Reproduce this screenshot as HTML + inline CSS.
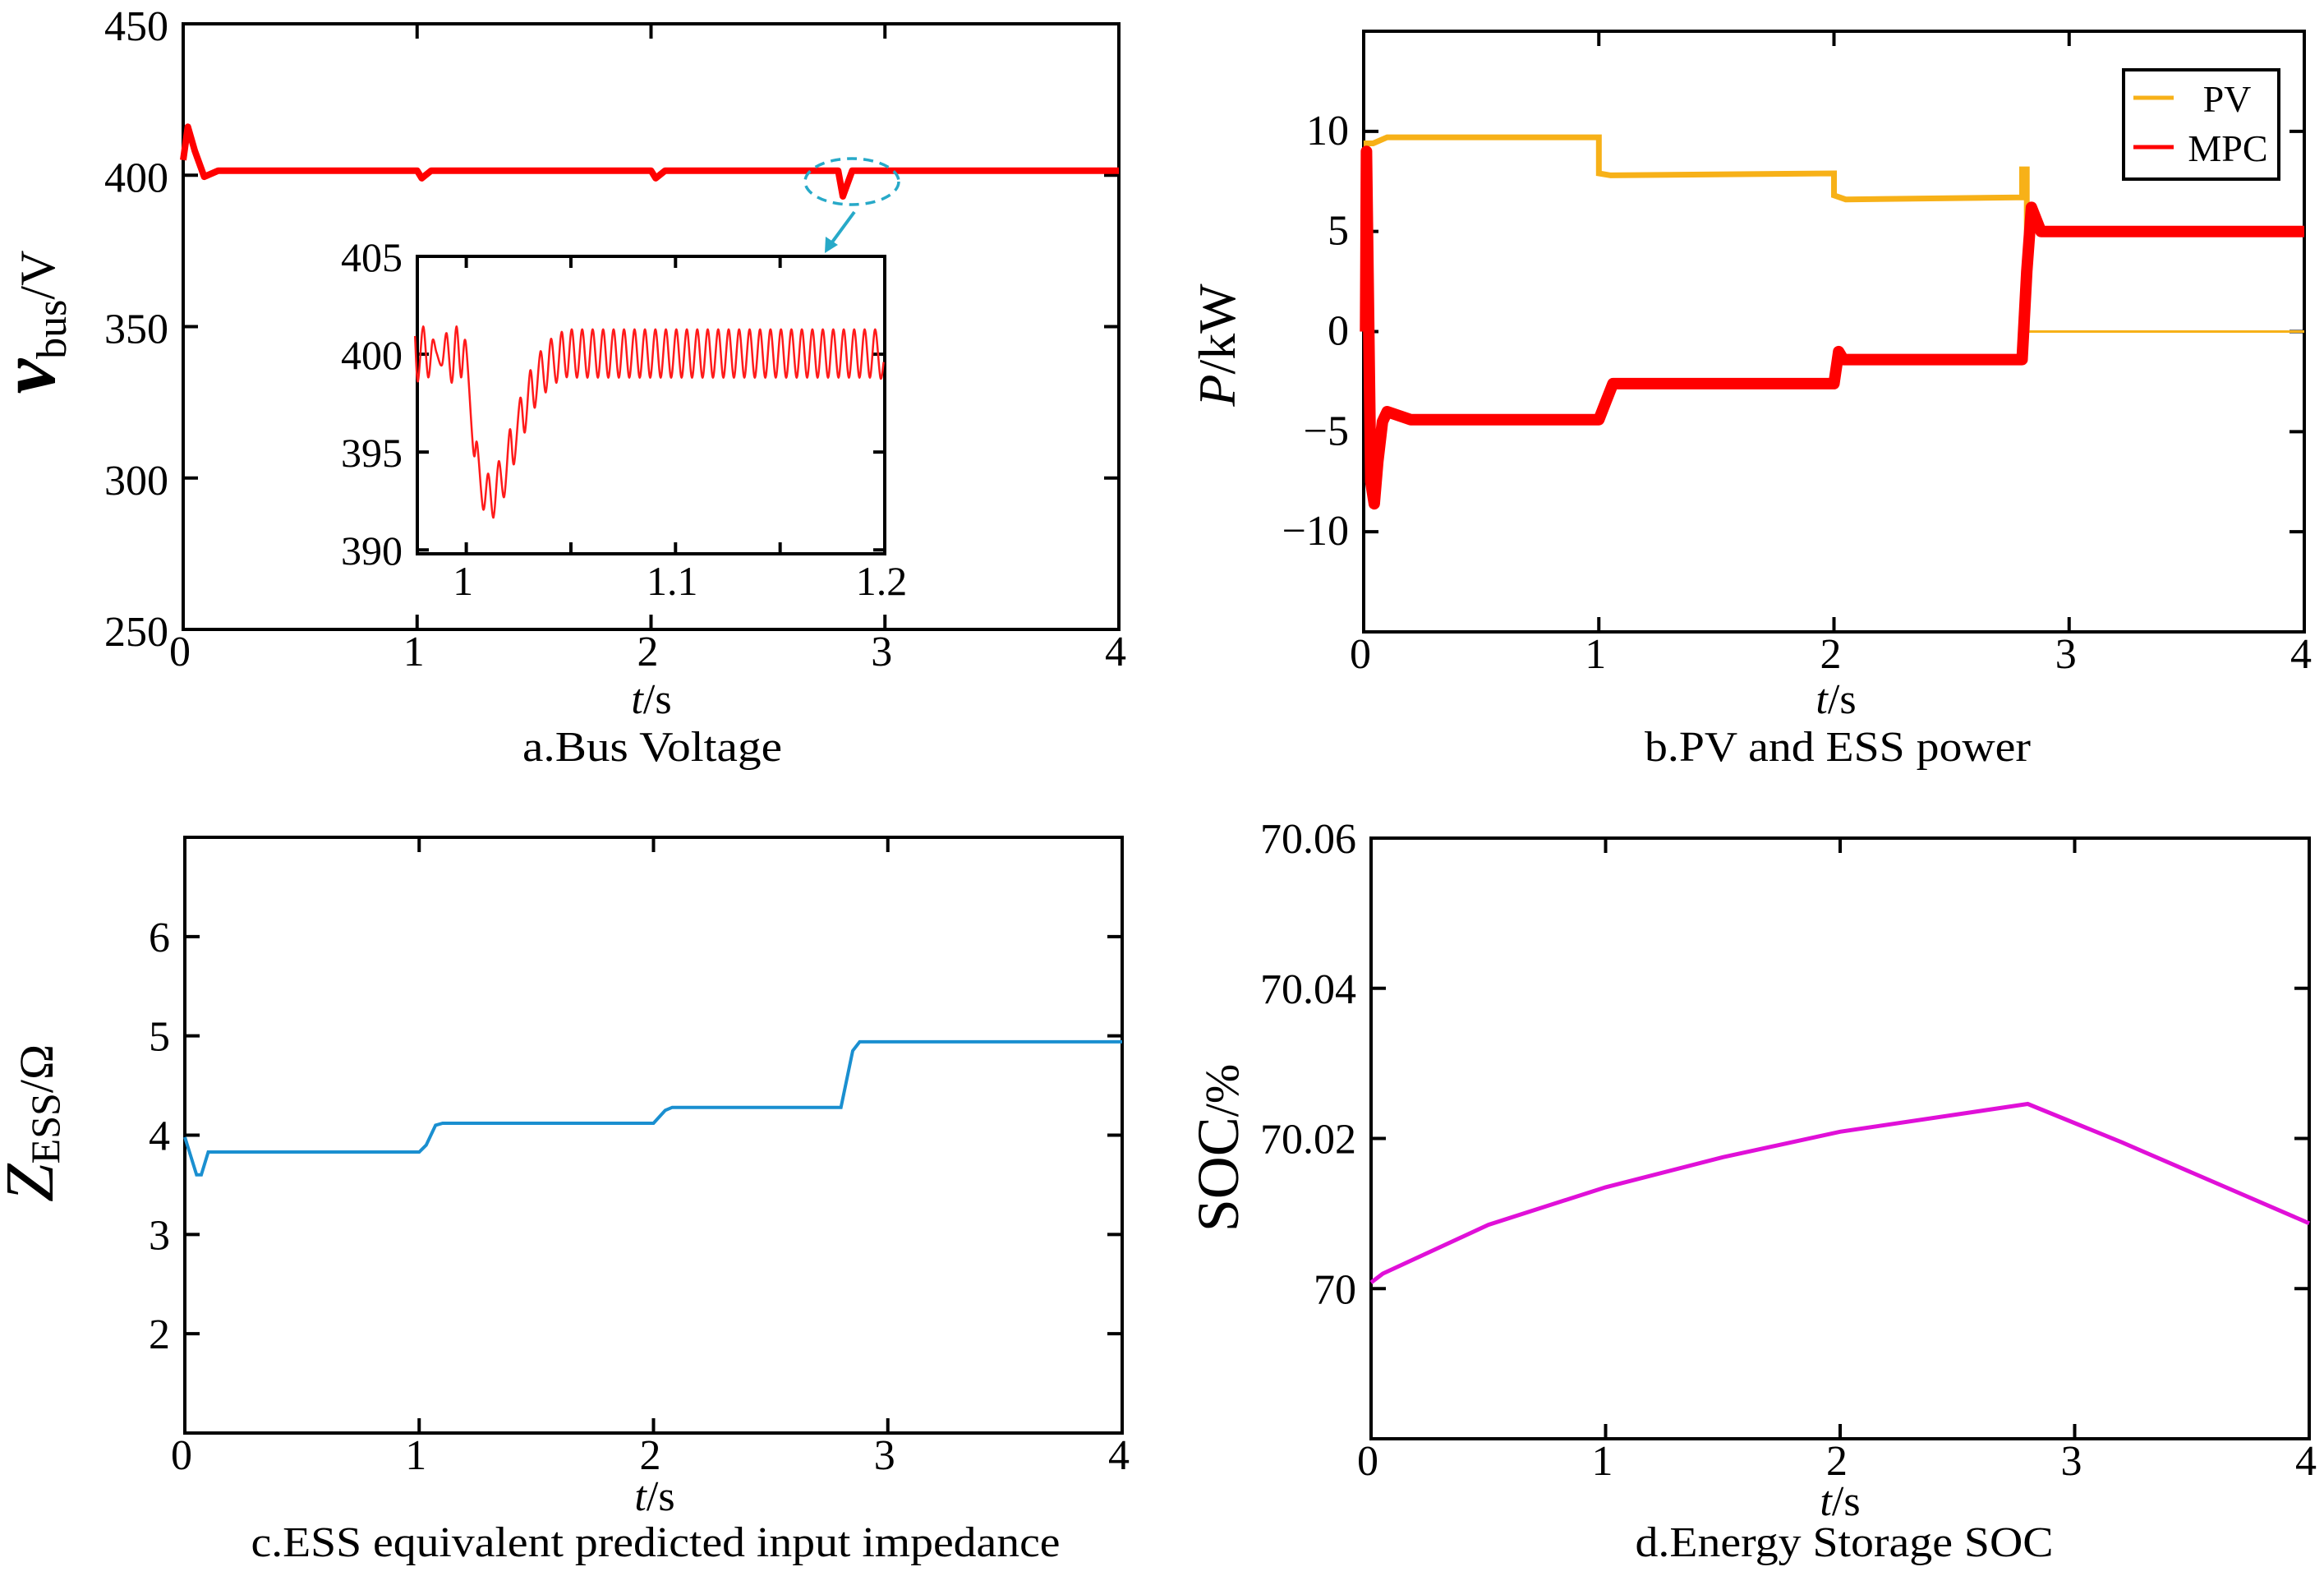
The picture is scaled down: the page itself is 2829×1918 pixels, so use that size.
<!DOCTYPE html>
<html><head><meta charset="utf-8"><style>
html,body{margin:0;padding:0;background:#fff}
svg{display:block;font-family:"Liberation Serif",serif}
</style></head><body>
<svg id="fig" width="2829" height="1918" viewBox="0 0 2829 1918" xmlns="http://www.w3.org/2000/svg">
<rect width="2829" height="1918" fill="#fff"/>
<g font-family="Liberation Serif, serif" fill="#000">
  <text transform="translate(66,392) rotate(-90)" text-anchor="middle" font-size="60"><tspan font-size="96" font-style="italic" font-weight="bold">v</tspan><tspan font-size="52" dy="14">bus</tspan><tspan dy="-14">/V</tspan></text>
  <text x="793" y="868" text-anchor="middle" font-size="52"><tspan font-style="italic">t</tspan>/s</text>
  <text x="794" y="926" text-anchor="middle" font-size="52" textLength="316" lengthAdjust="spacingAndGlyphs">a.Bus Voltage</text>

  <text transform="translate(1503,420) rotate(-90)" text-anchor="middle" font-size="64"><tspan font-style="italic">P</tspan>/kW</text>
  <text x="2235" y="868" text-anchor="middle" font-size="52"><tspan font-style="italic">t</tspan>/s</text>
  <text x="2237" y="926" text-anchor="middle" font-size="52" textLength="470" lengthAdjust="spacingAndGlyphs">b.PV and ESS power</text>

  <text transform="translate(64,1367) rotate(-90)" text-anchor="middle" font-size="58"><tspan font-size="84" font-style="italic">Z</tspan><tspan font-size="50" dy="8">ESS</tspan><tspan dy="-8">/Ω</tspan></text>
  <text x="797" y="1838" text-anchor="middle" font-size="52"><tspan font-style="italic">t</tspan>/s</text>
  <text x="798" y="1894" text-anchor="middle" font-size="52" textLength="985" lengthAdjust="spacingAndGlyphs">c.ESS equivalent predicted input impedance</text>

  <text transform="translate(1507,1397) rotate(-90)" text-anchor="middle" font-size="58"><tspan font-size="72">SOC</tspan>/%</text>
  <text x="2240" y="1844" text-anchor="middle" font-size="52"><tspan font-style="italic">t</tspan>/s</text>
  <text x="2245" y="1894" text-anchor="middle" font-size="52" textLength="509" lengthAdjust="spacingAndGlyphs">d.Energy Storage SOC</text>
</g>
<g id="plots"></g>
</svg>
<script>
// ---- data ----
const xTicks = [0, 1, 2, 3, 4];
const xTickLabels = ["0", "1", "2", "3", "4"];
// Panel a
const busT = [0, 0.02, 0.05, 0.09, 0.15, 1.0, 1.02, 1.06, 2.0, 2.02, 2.06, 2.8, 2.82, 2.86, 4.0];
const busV = [405, 416, 408, 399.5, 401.5, 401.5, 399, 401.5, 401.5, 399, 401.5, 401.5, 393, 401.5, 401.5];
const busYTicks = [250, 300, 350, 400, 450];
const busYTickLabels = ["250", "300", "350", "400", "450"];
// Inset
const insetT = [0.9755,0.9769,0.9794,0.9818,0.9839,0.9858,0.9884,0.9906,0.9931,0.9953,0.9975,0.9997,1.0034,1.0052,1.0081,1.0105,1.0130,1.0155,1.0181,1.0208,1.0228,1.0258,1.0280,1.0306,1.0328,1.0355,1.0380,1.0405,1.0431,1.0456,1.0480,
1.0504,1.0529,1.0554,1.0579,1.0604,1.0629,1.0654,1.0679,1.0704,1.0729,1.0754,1.0779,1.0804,1.0829,1.0854,1.0879,1.0904,1.0929,1.0954,1.0979,1.1004,1.1029,1.1054,1.1079,1.1104,1.1129,1.1154,1.1179,1.1204,1.1229,
1.1254,1.1279,1.1304,1.1329,1.1354,1.1379,1.1404,1.1429,1.1454,1.1479,1.1504,1.1529,1.1554,1.1579,1.1604,1.1629,1.1654,1.1679,1.1704,1.1729,1.1754,1.1779,1.1804,1.1829,1.1854,1.1879,1.1904,1.1929,1.1954,1.1979,1.1995];
const insetV = [400.93,398.61,401.42,398.82,400.71,400.08,399.45,401.07,398.54,401.42,398.82,400.64,395.02,395.45,392.07,393.90,391.65,394.53,392.71,396.15,394.39,397.76,396.01,399.17,397.27,400.15,398.05,400.79,398.54,401.14,398.82,
401.27,398.8,401.27,398.8,401.27,398.8,401.27,398.8,401.27,398.8,401.27,398.8,401.27,398.8,401.27,398.8,401.27,398.8,401.27,398.8,401.27,398.8,401.27,398.8,401.27,398.8,401.27,398.8,401.27,398.8,
401.27,398.8,401.27,398.8,401.27,398.8,401.27,398.8,401.27,398.8,401.27,398.8,401.27,398.8,401.27,398.8,401.27,398.8,401.27,398.8,401.27,398.8,401.27,398.8,401.27,398.8,401.27,398.8,401.27,398.8,399.6];
const insetXTicks = [1, 1.05, 1.1, 1.15, 1.2];
const insetXTickLabels = ["1", "", "1.1", "", "1.2"];
const insetYTicks = [390, 395, 400, 405];
const insetYTickLabels = ["390", "395", "400", "405"];
// Panel b
const pvT = [0, 0.008, 0.012, 0.04, 0.1, 1.0, 1.0, 1.05, 2.0, 2.0, 2.05, 2.8, 2.8, 2.82, 2.82, 4.0];
const pvV = [0, 0, 9.4, 9.4, 9.7, 9.7, 7.9, 7.8, 7.9, 6.8, 6.6, 6.7, 8.1, 8.1, 0, 0];
const mpcT = [0, 0.008, 0.012, 0.03, 0.045, 0.06, 0.08, 0.1, 0.2, 1.0, 1.03, 1.06, 2.0, 2.02, 2.04, 2.8, 2.82, 2.84, 2.88, 4.0];
const mpcV = [0, 0, 9.0, -7.5, -8.6, -6.5, -4.5, -4.0, -4.4, -4.4, -3.5, -2.6, -2.6, -1.0, -1.4, -1.4, 3.0, 6.2, 5.0, 5.0];
const pYTicks = [-10, -5, 0, 5, 10];
const pYTickLabels = ["\u221210", "\u22125", "0", "5", "10"];
// Panel c
const zT = [0, 0.05, 0.07, 0.1, 1.0, 1.03, 1.07, 1.1, 2.0, 2.05, 2.08, 2.8, 2.85, 2.88, 4.0];
const zV = [3.98, 3.6, 3.6, 3.83, 3.83, 3.9, 4.1, 4.12, 4.12, 4.25, 4.28, 4.28, 4.85, 4.94, 4.94];
const zYTicks = [2, 3, 4, 5, 6];
const zYTickLabels = ["2", "3", "4", "5", "6"];
// Panel d
const socT = [0, 0.05, 0.5, 1.0, 1.5, 2.0, 2.8, 3.2, 4.0];
const socV = [70.0008, 70.002, 70.0085, 70.0135, 70.0175, 70.0209, 70.0246, 70.0195, 70.0087];
const socYTicks = [70, 70.02, 70.04, 70.06];
const socYTickLabels = ["70", "70.02", "70.04", "70.06"];

// ---- rendering ----
const NS = "http://www.w3.org/2000/svg";
const root = document.getElementById("plots");
function mk(tag, attrs, parent) {
  const e = document.createElementNS(NS, tag);
  for (const k in attrs) e.setAttribute(k, attrs[k]);
  (parent || root).appendChild(e);
  return e;
}
function scale(d0, d1, r0, r1) { return v => r0 + (v - d0) / (d1 - d0) * (r1 - r0); }

function axes(name, L, R, T, B, xd, yd, xt, xl, yt, yl, o) {
  const g = mk("g", {});
  
  
  const sx = scale(xd[0], xd[1], L, R), sy = scale(yd[0], yd[1], B, T);
  const tl = o.tick || 18, fs = o.fs || 52;
  xt.forEach((v, i) => {
    const x = sx(v);
    const t1 = mk("line", {x1: x, x2: x, y1: B, y2: B - tl, stroke: "#000", "stroke-width": 4}, g);
    
    
    const t2 = mk("line", {x1: x, x2: x, y1: T, y2: T + tl, stroke: "#000", "stroke-width": 4}, g);
    
    
    if (xl[i]) {
      const tx = mk("text", {x: x - 4, y: B + o.xlab, "text-anchor": "middle", "font-size": fs}, g);
      
      
      tx.textContent = xl[i];
    }
  });
  yt.forEach((v, i) => {
    const y = sy(v);
    const t1 = mk("line", {x1: L, x2: L + tl, y1: y, y2: y, stroke: "#000", "stroke-width": 4}, g);
    
    
    const t2 = mk("line", {x1: R, x2: R - tl, y1: y, y2: y, stroke: "#000", "stroke-width": 4}, g);
    
    
    const ty = mk("text", {x: L - 18, y: y + (o.ylab || 18), "text-anchor": "end", "font-size": fs}, g);
    
    
    ty.textContent = yl[i];
  });
  const fr = mk("rect", {x: L, y: T, width: R - L, height: B - T, fill: "none", stroke: "#000", "stroke-width": 4}, g);
  
  
  return {sx, sy};
}
function poly(ts, vs, s, from, to) {
  const pts = [];
  for (let i = from; i <= to; i++) pts.push(s.sx(ts[i]).toFixed(1) + "," + s.sy(vs[i]).toFixed(1));
  return "M" + pts.join("L");
}
function smooth(ts, vs, s) {
  const P = ts.map((t, i) => [s.sx(t), s.sy(vs[i])]);
  let d = "M" + P[0][0].toFixed(1) + "," + P[0][1].toFixed(1);
  for (let i = 0; i < P.length - 1; i++) {
    const p0 = P[Math.max(0, i - 1)], p1 = P[i], p2 = P[i + 1], p3 = P[Math.min(P.length - 1, i + 2)];
    const c1 = [p1[0] + (p2[0] - p0[0]) / 6, p1[1] + (p2[1] - p0[1]) / 6];
    const c2 = [p2[0] - (p3[0] - p1[0]) / 6, p2[1] - (p3[1] - p1[1]) / 6];
    d += "C" + c1.map(v => v.toFixed(1)).join(",") + " " + c2.map(v => v.toFixed(1)).join(",") + " " + p2[0].toFixed(1) + "," + p2[1].toFixed(1);
  }
  return d;
}

// Panel a
const sa = axes("panel-a", 223, 1362, 29, 766, [0, 4], [250, 450], xTicks, xTickLabels, busYTicks, busYTickLabels, {xlab: 44, ylab: 20});
const la = mk("path", {d: poly(busT, busV, sa, 0, busT.length - 1), fill: "none", stroke: "#ff0000", "stroke-width": 8, "stroke-linejoin": "round"});


const el = mk("ellipse", {cx: 1037, cy: 221, rx: 57, ry: 28, fill: "none", stroke: "#27a9c8", "stroke-width": 3.5, "stroke-dasharray": "12,8"});


const ar = mk("line", {x1: 1040, y1: 258, x2: 1012, y2: 296, stroke: "#27a9c8", "stroke-width": 4});


const ah = mk("polygon", {points: "1004,308 1005,288 1020,298", fill: "#27a9c8"});


// inset
const bg = mk("rect", {x: 508, y: 312, width: 569, height: 362, fill: "#fff"});


const si = axes("inset", 508, 1077, 312, 674, [0.9766, 1.2], [389.8, 405], insetXTicks, insetXTickLabels, insetYTicks, insetYTickLabels, {xlab: 50, ylab: 18, tick: 14, fs: 50});
const li = mk("path", {d: smooth(insetT, insetV, si), fill: "none", stroke: "#ff1a1a", "stroke-width": 2.5});



// Panel b
const sb = axes("panel-b", 1660, 2805, 38, 769, [0, 4], [-15, 15], xTicks, xTickLabels, pYTicks, pYTickLabels, {xlab: 44, ylab: 16});
const pv1 = mk("path", {d: poly(pvT, pvV, sb, 0, pvT.length - 2), fill: "none", stroke: "#f7b118", "stroke-width": 7, "stroke-linejoin": "miter"});


const pv2 = mk("path", {d: poly(pvT, pvV, sb, pvT.length - 2, pvT.length - 1), fill: "none", stroke: "#f7b118", "stroke-width": 3});


const mp = mk("path", {d: poly(mpcT, mpcV, sb, 0, mpcT.length - 1), fill: "none", stroke: "#ff0000", "stroke-width": 14, "stroke-linejoin": "round"});


// legend
const lg = mk("g", {});


const lb = mk("rect", {x: 2585, y: 85, width: 189, height: 133, fill: "#fff", stroke: "#000", "stroke-width": 4}, lg);


const l1 = mk("line", {x1: 2597, x2: 2646, y1: 119, y2: 119, stroke: "#f7b118", "stroke-width": 5}, lg);


const t1 = mk("text", {x: 2711, y: 136, "text-anchor": "middle", "font-size": 46}, lg);


t1.textContent = "PV";
const l2 = mk("line", {x1: 2597, x2: 2646, y1: 179, y2: 179, stroke: "#ff0000", "stroke-width": 5}, lg);


const t2 = mk("text", {x: 2712, y: 196, "text-anchor": "middle", "font-size": 46}, lg);


t2.textContent = "MPC";

// Panel c
const sc = axes("panel-c", 225, 1366, 1019, 1744, [0, 4], [1, 7], xTicks, xTickLabels, zYTicks, zYTickLabels, {xlab: 44, ylab: 18});
const lc = mk("path", {d: poly(zT, zV, sc, 0, zT.length - 1), fill: "none", stroke: "#1a8fd0", "stroke-width": 4});



// Panel d
const sd = axes("panel-d", 1669, 2811, 1020, 1751, [0, 4], [69.98, 70.06], xTicks, xTickLabels, socYTicks, socYTickLabels, {xlab: 44, ylab: 18});
const ld = mk("path", {d: poly(socT, socV, sd, 0, socT.length - 1), fill: "none", stroke: "#e010d8", "stroke-width": 5});


</script>
</body></html>
